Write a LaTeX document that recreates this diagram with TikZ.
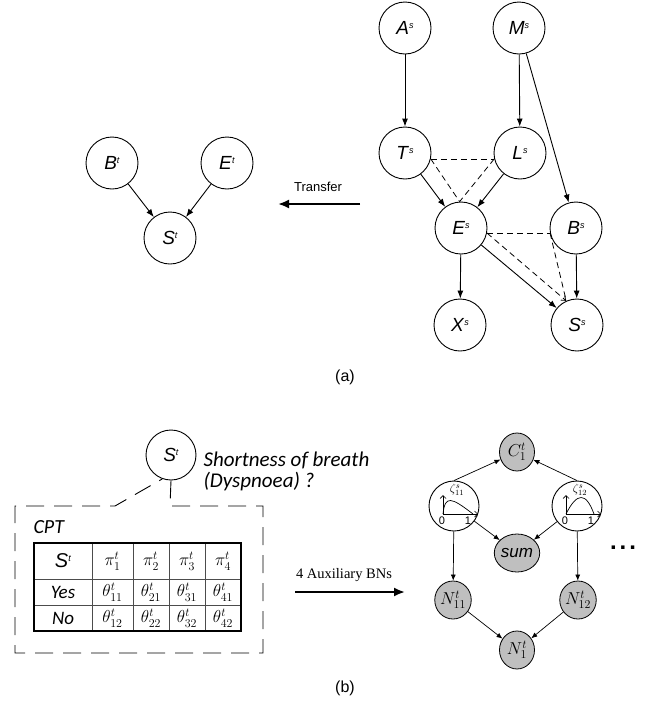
\documentclass[tikz,border=0pt]{standalone}
\usepackage{amssymb,amsmath}
\usepackage{fontspec}
\setmainfont{Liberation Sans}
\newfontfamily\calib{Carlito}
\newfontfamily\timesf{Liberation Serif}
\usetikzlibrary{arrows.meta,shapes.geometric}
\newcommand{\lettre}[2]{\textit{#1}\raisebox{6.5pt}{\fontsize{9}{9}\selectfont\textit{#2}}}

\begin{document}
\begin{tikzpicture}[x=1pt,y=-1pt,
	noeud/.style={circle,draw,line width=0.9pt,minimum size=52pt,inner sep=0pt,font=\fontsize{19}{22}\selectfont},
	gris/.style={ellipse,draw,line width=0.8pt,fill=black!25,minimum width=35pt,minimum height=38pt,inner sep=0pt,font=\fontsize{17}{19}\selectfont},
	fleche/.style={line width=0.9pt,-{Latex[length=8pt,width=6pt]}},
	petite/.style={line width=0.7pt,-{Latex[length=6pt,width=5pt]}},
	tirets/.style={line width=0.8pt,dash pattern=on 6pt off 4pt},
	grosse/.style={line width=2pt,-{Latex[length=11pt,width=9pt]}},
	cadre/.style={line width=0.9pt,dash pattern=on 18pt off 10pt},
	cell/.style={inner sep=0pt,font=\fontsize{18}{20}\selectfont}]
\useasboundingbox (0,0) rectangle (662,702);
%					Tracé du réseau source :
					\node[noeud] (As) at (405,28) {\lettre{A}{s}};
					\node[noeud] (Ms) at (519,28) {\lettre{M}{s}};
					\node[noeud] (Ts) at (405,153) {\lettre{T}{s}};
					\node[noeud] (Ls) at (520,153) {\lettre{L}{s}};
					\node[noeud] (Es) at (461,228) {\lettre{E}{s}};
					\node[noeud] (Bs) at (576,228) {\lettre{B}{s}};
					\node[noeud] (Xs) at (460,325) {\lettre{X}{s}};
					\node[noeud] (Ss) at (577,325) {\lettre{S}{s}};
					\draw[fleche] (As) -- (Ts);
					\draw[fleche] (Ms) -- (Ls);
					\draw[fleche] (Ms) -- (Bs);
					\draw[fleche] (Ts) -- (Es);
					\draw[fleche] (Ls) -- (Es);
					\draw[fleche] (Es) -- (Xs);
					\draw[fleche] (Es) -- (Ss);
					\draw[fleche] (Bs) -- (Ss);
%					Tracé des liens en tirets :
					\draw[tirets] (Ts.-13) -- (Ls.193);
					\draw[tirets] (Ts.-13) -- (Es.93);
					\draw[tirets] (Ls.193) -- (Es.93);
					\draw[tirets] (Es.-11) -- (Bs.191);
					\draw[tirets,-{Straight Barb[length=4pt,width=6pt]}] (Es.-11) -- (Ss.114);
					\draw[tirets] (Bs.191) -- (Ss.114);
%					Tracé du réseau cible :
					\node[noeud] (Bt) at (112,163) {\lettre{B}{t}};
					\node[noeud] (Et) at (227,163) {\lettre{E}{t}};
					\node[noeud] (St) at (170,238) {\lettre{S}{t}};
					\draw[fleche] (Bt) -- (St);
					\draw[fleche] (Et) -- (St);
					\coordinate (tr1) at (360,204);
					\coordinate (tr2) at (278,204);
					\draw[grosse] (tr1) -- (tr2);
					\node[font=\fontsize{13}{15}\selectfont] (transfer) at (318,187) {Transfer};
					\node[font=\fontsize{16}{18}\selectfont] (lba) at (345,377) {(a)};
%					Tracé de la table CPT :
					\node[noeud,minimum size=50pt] (Stb) at (171,455) {\lettre{S}{t}};
					\node[anchor=west,font=\calib\itshape\fontsize{21}{24}\selectfont] (sob) at (200,460) {Shortness of breath};
					\node[anchor=west,font=\calib\itshape\fontsize{21}{24}\selectfont] (dys) at (200,482) {(Dyspnoea) ?};
					\draw[cadre] (172,506) -- (263,506) -- (263,653) -- (15,653) -- (15,506) -- (115,506) -- (Stb.250);
					\draw[cadre] (Stb.south) -- (170,506);
					\node[anchor=west,font=\calib\itshape\fontsize{20}{22}\selectfont] (cpt) at (30,527) {CPT};
					\draw[gray!60!black,line width=0.6pt] (34,579) -- (241,579) (34,605) -- (241,605);
					\draw[gray!60!black,line width=0.6pt] (92,543) -- (92,631) (133,543) -- (133,631) (169,543) -- (169,631) (205,543) -- (205,631);
					\draw[line width=2pt] (34,543) rectangle (241,631);
					\node[font=\fontsize{20}{22}\selectfont] (cS) at (63,561) {\lettre{S}{t}};
					\node[font=\calib\itshape\fontsize{19}{21}\selectfont] (cY) at (63,592) {Yes};
					\node[font=\calib\itshape\fontsize{19}{21}\selectfont] (cN) at (63,618) {No};
					\foreach \j/\x in {1/112.5,2/151,3/187,4/223}{
						\node[cell] (pi\j) at (\x,561) {$\pi^t_{\j}$};
						\node[cell] (ta\j) at (\x,592) {$\theta^t_{\j1}$};
						\node[cell] (tb\j) at (\x,618) {$\theta^t_{\j2}$};
					}
					\coordinate (ax1) at (295,592);
					\coordinate (ax2) at (405,592);
					\draw[grosse] (ax1) -- (ax2);
					\node[font=\timesf\fontsize{14.5}{16}\selectfont] (aux) at (344,575) {4 Auxiliary BNs};
%					Tracé des BN auxiliaires :
					\node[gris] (C1) at (517,452) {$C_1^t$};
					\node[noeud,minimum size=50pt] (z1) at (454,506) {};
					\node[noeud,minimum size=50pt] (z2) at (577,506) {};
					\node[gris] (sum) at (517,553) {$\mathit{sum}$};
					\node[gris] (N11) at (453,600) {$N_{11}^t$};
					\node[gris] (N12) at (578,600) {$N_{12}^t$};
					\node[gris] (N1) at (517,650) {$N_1^t$};
					\node[font=\bfseries\fontsize{24}{24}\selectfont] (dots) at (623,548) {.\kern3pt.\kern3pt.};
					\begin{scope}[shift={(z1.center)}]
						\draw[line width=0.7pt,-{Straight Barb[length=3pt]}] (-11,8) -- (-11,-11);
						\draw[line width=0.7pt,-{Straight Barb[length=3pt]}] (-11,8) -- (24,8);
						\draw[line width=0.7pt] (-11,8) .. controls (-9,-11) and (-3,-9) .. (19,8);
						\node[font=\fontsize{11}{11}\selectfont] at (-12,15) {0};
						\node[font=\fontsize{11}{11}\selectfont] at (14,15) {1};
						\node[font=\fontsize{12}{12}\selectfont,inner sep=0pt] at (3,-16) {$\zeta^s_{11}$};
					\end{scope}
					\begin{scope}[shift={(z2.center)}]
						\draw[line width=0.7pt,-{Straight Barb[length=3pt]}] (-11,8) -- (-11,-11);
						\draw[line width=0.7pt,-{Straight Barb[length=3pt]}] (-11,8) -- (24,8);
						\draw[line width=0.7pt] (-11,8) .. controls (0,-14) and (9,-14) .. (17,8);
						\node[font=\fontsize{11}{11}\selectfont] at (-12,15) {0};
						\node[font=\fontsize{11}{11}\selectfont] at (14,15) {1};
						\node[font=\fontsize{12}{12}\selectfont,inner sep=0pt] at (3,-16) {$\zeta^s_{12}$};
					\end{scope}
					\draw[petite] (z1.north) -- (C1);
					\draw[petite] (z2.north) -- (C1);
					\draw[petite] (z1) -- (sum);
					\draw[petite] (z2) -- (sum);
					\draw[petite] (z1) -- (N11);
					\draw[petite] (z2) -- (N12);
					\draw[petite] (N11) -- (N1);
					\draw[petite] (N12) -- (N1);
					\node[font=\fontsize{16}{18}\selectfont] (lbb) at (345,688) {(b)};
				\end{tikzpicture}
\end{document}
